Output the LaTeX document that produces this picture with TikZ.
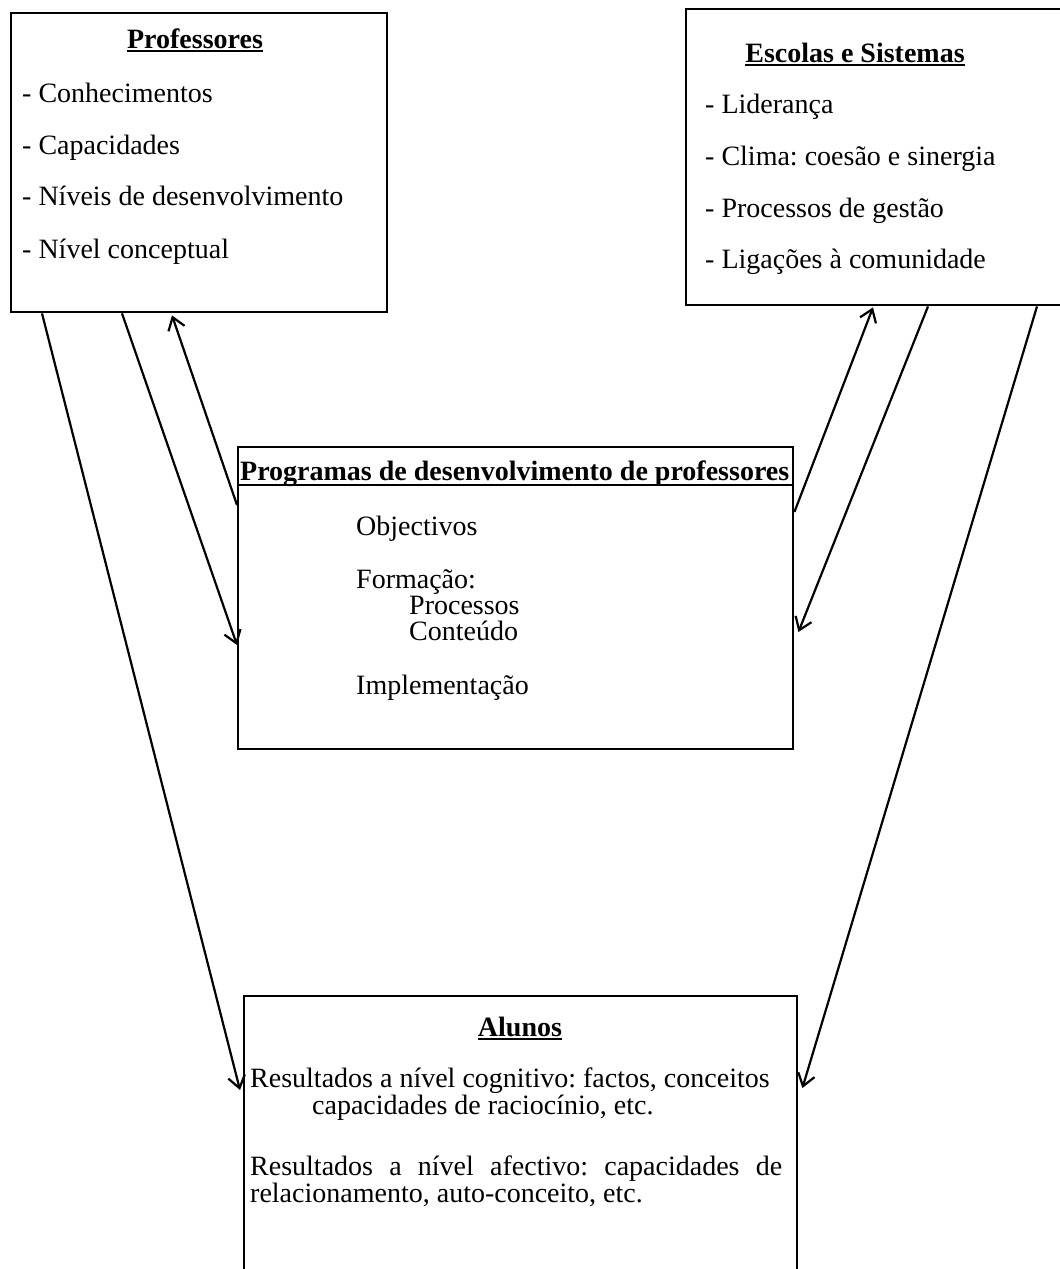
\documentclass[tikz,border=0pt]{standalone}
\usepackage{fontspec}
\setmainfont{Liberation Serif}
\usetikzlibrary{calc,arrows.meta}
\frenchspacing
\newsavebox\ulbox
\newcommand\myul[1]{\sbox\ulbox{#1}\rlap{\rule[-4pt]{\wd\ulbox}{1.6pt}}\usebox\ulbox}
\begin{document}
\frenchspacing
\begin{tikzpicture}[x=1pt,y=-1pt,
  box/.style={draw,line width=2.4pt,rectangle,anchor=north west,inner sep=0pt},
  txt/.style={anchor=base west,inner sep=0pt,align=left,font=\fontsize{28}{25}\selectfont},
  ttl/.style={anchor=base,inner sep=0pt,font=\fontsize{28}{28}\selectfont\bfseries},
  arr/.style={line width=2.2pt,-{Straight Barb[length=12pt,width=17pt]}}]
\useasboundingbox (0,0) rectangle (1060,1269);
\clip (0,0) rectangle (1060,1269);
% boxes
\node[box,minimum width=376pt,minimum height=299pt] (prof) at (10,12) {};
\node[box,minimum width=380pt,minimum height=296pt] (esc) at (685,8) {};
\node[box,minimum width=555pt,minimum height=302pt] (prog) at (237,446) {};
\node[box,minimum width=553pt,minimum height=300pt] (alu) at (243,995) {};
% Professores
\node[ttl] (proft) at (195,48) {\myul{Professores}};
\node[txt] (p1) at (22,102) {- Conhecimentos};
\node[txt] (p2) at (22,154) {- Capacidades};
\node[txt] (p3) at (22,205) {- Níveis de desenvolvimento};
\node[txt] (p4) at (22,258) {- Nível conceptual};
% Escolas
\node[ttl] (esct) at (855,62) {\myul{Escolas e Sistemas}};
\node[txt] (e1) at (705,113) {- Liderança};
\node[txt] (e2) at (705,165) {- Clima: coesão e sinergia};
\node[txt] (e3) at (705,217) {- Processos de gestão};
\node[txt] (e4) at (705,268) {- Ligações à comunidade};
% Programas
\node[txt,font=\fontsize{28}{28}\selectfont\bfseries] (progt) at (240,480) {Programas de desenvolvimento de professores};
\draw[line width=1.6pt] ($(prog.north west)+(0,39)$) -- ($(prog.north east)+(0,39)$);
\node[txt] (g1) at (356,535) {Objectivos};
\node[txt,font=\fontsize{28}{26}\selectfont] (g2) at (356,640) {Formação:\\\hspace*{53pt}Processos\\\hspace*{53pt}Conteúdo};
\node[txt] (g5) at (356,694) {Implementação};
% Alunos
\node[ttl] (alut) at (520,1036) {\myul{Alunos}};
\node[txt,font=\fontsize{28}{23}\selectfont] (a1) at (250,1114) {Resultados a nível cognitivo: factos, conceitos\\\hspace*{62pt}capacidades de raciocínio, etc.};
\node[txt,font=\fontsize{28}{24}\selectfont] (a3) at (250,1202) {\makebox[532pt][s]{Resultados a nível afectivo: capacidades de}\\relacionamento, auto-conceito, etc.};
% arrows
\draw[arr] ($(prof.south west)+(32,0)$) -- ($(alu.north west)+(-3,95)$);
\draw[arr] ($(prof.south west)+(112,0)$) -- ($(prog.north west)+(0,199)$);
\draw[arr] ($(prog.north west)+(0,59)$) -- ($(prof.south west)+(162,2)$);
\draw[arr] ($(prog.north east)+(0,66)$) -- ($(esc.south west)+(188,1)$);
\draw[arr] ($(esc.south west)+(243,0)$) -- ($(prog.north east)+(4,186)$);
\draw[arr] ($(esc.south west)+(352,0)$) -- ($(alu.north east)+(4,93)$);
\end{tikzpicture}
\end{document}
